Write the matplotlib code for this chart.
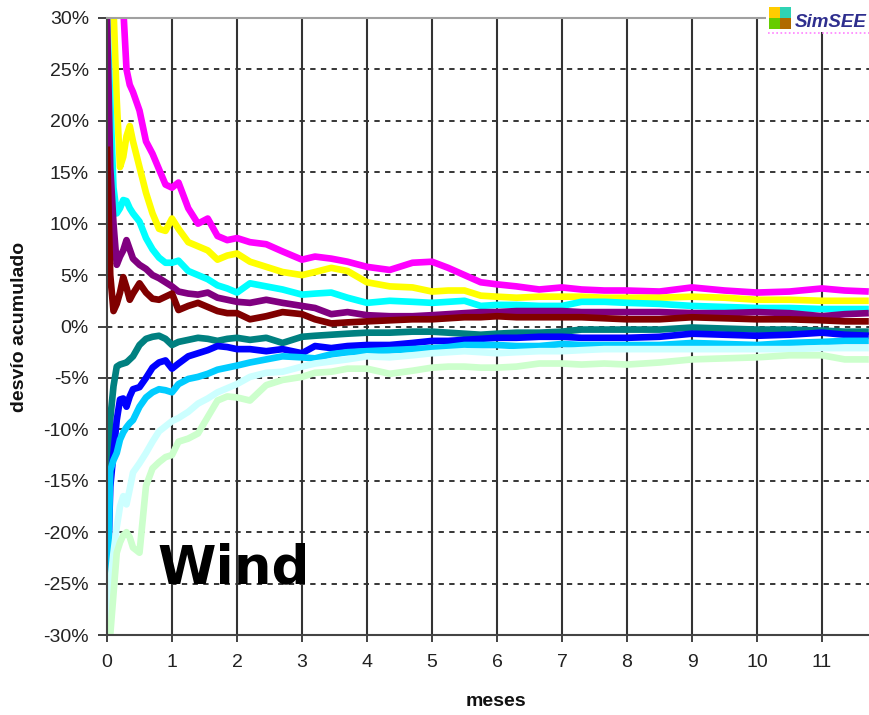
import matplotlib
matplotlib.use("Agg")
import matplotlib.pyplot as plt
from matplotlib.patches import Rectangle
from matplotlib.lines import Line2D

# ---------------- data ----------------
meses = [0, 0.05, 0.1, 0.15, 0.2, 0.25, 0.3, 0.35, 0.4,
         0.5, 0.6, 0.7, 0.8, 0.9,
         1.0, 1.1, 1.25, 1.4, 1.55, 1.7, 1.85,
         2.0, 2.2, 2.45, 2.7,
         3.0, 3.2, 3.45, 3.7,
         4.0, 4.35, 4.7,
         5.0, 5.25, 5.5, 5.75,
         6.0, 6.3, 6.65,
         7.0, 7.3, 7.65,
         8.0, 8.5,
         9.0, 9.5,
         10.0, 10.5,
         11.0, 11.35, 11.72]

s_magenta = [60, 50, 42, 38, 34, 31, 25, 23.5, 22.8,
             21, 18, 16.8, 15.3, 13.8,
             13.5, 14.0, 11.5, 10.0, 10.5, 8.8, 8.4,
             8.6, 8.2, 8.0, 7.3,
             6.5, 6.8, 6.6, 6.3,
             5.8, 5.5, 6.2,
             6.3, 5.7, 5.0, 4.3,
             4.1, 3.9, 3.6,
             3.8, 3.6, 3.5,
             3.5, 3.4,
             3.8, 3.5,
             3.3, 3.4,
             3.7, 3.5, 3.4]

s_amarillo = [55, 40, 31, 22, 15.5, 16.5, 18.5, 19.5, 18,
              15.5, 13, 11, 9.5, 9.3,
              10.5, 9.5, 8.2, 7.8, 7.4, 6.5, 6.9,
              7.1, 6.3, 5.8, 5.3,
              5.0, 5.3, 5.7, 5.4,
              4.3, 3.9, 3.8,
              3.4, 3.5, 3.5, 3.0,
              2.9, 2.8, 2.9,
              2.9, 2.9, 2.8,
              2.8, 2.8,
              2.9, 2.8,
              2.6, 2.6,
              2.5, 2.5, 2.5]

s_cian = [30, 22, 13.5, 11, 11.5, 12.3, 12.2, 11.5, 11,
          10.2, 8.6, 7.5, 6.7, 6.2,
          6.2, 6.4, 5.4, 5.0, 4.6, 4.0, 3.7,
          3.3, 4.2, 3.9, 3.6,
          3.1, 3.2, 3.3, 2.8,
          2.3, 2.5, 2.4,
          2.3, 2.4, 2.5, 2.0,
          2.1, 2.1, 2.0,
          2.0, 2.4, 2.4,
          2.3, 2.2,
          2.0, 1.9,
          1.8, 1.8,
          1.7, 1.7, 1.7]

s_purpura = [30, 15.5, 10, 6, 6.8, 7.4, 8.4, 7.5, 6.6,
             6.0, 5.6, 5.0, 4.7, 4.3,
             3.9, 3.4, 3.2, 3.1, 3.3, 2.8, 2.6,
             2.4, 2.3, 2.6, 2.3,
             2.0, 1.8, 1.2, 1.4,
             1.1, 1.0, 1.0,
             1.1, 1.2, 1.3, 1.4,
             1.4, 1.5, 1.5,
             1.5, 1.4, 1.4,
             1.4, 1.4,
             1.3, 1.3,
             1.4, 1.3,
             1.0, 1.2, 1.3]

s_granate = [17.5, 5, 1.5, 2.2, 3.3, 4.8, 3.8, 2.6, 3.2,
             4.2, 3.3, 2.7, 2.6, 2.9,
             3.2, 1.6, 2.0, 2.3, 1.9, 1.5, 1.3,
             1.3, 0.7, 1.0, 1.4,
             1.2, 0.7, 0.3, 0.4,
             0.5, 0.6, 0.7,
             0.7, 0.8, 0.9, 0.9,
             1.0, 0.9, 0.9,
             0.9, 0.9, 0.8,
             0.7, 0.7,
             0.9, 0.8,
             0.7, 0.7,
             0.6, 0.5, 0.5]

s_verde_azulado = [-15.5, -9, -5.8, -3.9, -3.7, -3.6, -3.5, -3.2, -2.9,
                   -1.8, -1.2, -1.0, -0.9, -1.2,
                   -1.8, -1.5, -1.3, -1.1, -1.2, -1.4, -1.2,
                   -1.1, -1.3, -1.1, -1.6,
                   -1.0, -0.9, -0.8, -0.7,
                   -0.6, -0.6, -0.5,
                   -0.5, -0.6, -0.7, -0.8,
                   -0.7, -0.6, -0.6,
                   -0.5, -0.3, -0.3,
                   -0.3, -0.3,
                   -0.1, -0.2,
                   -0.3, -0.3,
                   -0.4, -0.5, -0.5]

s_azul = [-27, -15.6, -12.3, -9.1, -7.1, -7.0, -7.8, -6.8, -6.1,
          -5.9, -5.0, -4.0, -3.5, -3.3,
          -4.1, -3.6, -2.9, -2.6, -2.3, -1.9, -2.0,
          -2.2, -2.2, -2.4, -2.2,
          -2.6, -1.9, -2.1, -1.9,
          -1.8, -1.8, -1.6,
          -1.4, -1.4, -1.3, -1.2,
          -1.1, -1.1, -1.0,
          -1.0, -1.1, -1.1,
          -1.1, -1.0,
          -0.7, -0.8,
          -0.9, -0.8,
          -0.6, -0.8, -0.9]

s_celeste = [-29, -14, -13, -12.3, -11, -10.3, -9.8, -9.4, -9.1,
             -7.8, -6.9, -6.4, -6.1, -6.2,
             -6.4, -5.6, -5.1, -4.9, -4.6, -4.2, -4.0,
             -3.8, -3.5, -3.2, -2.9,
             -3.0, -3.1, -2.7, -2.5,
             -2.4, -2.3, -2.2,
             -2.1, -2.0, -1.8, -1.8,
             -1.8, -1.9, -1.9,
             -1.7, -1.8, -1.8,
             -1.8, -1.8,
             -1.6, -1.7,
             -1.8, -1.6,
             -1.5, -1.4, -1.4]

s_cian_claro = [-29, -25, -22, -19.5, -17.5, -16.5, -17.3, -15.8, -14.2,
                -13.3, -12.3, -11.2, -10.2, -9.7,
                -9.2, -8.9, -8.3, -7.5, -7.0, -6.4, -6.0,
                -5.6, -4.9, -4.5, -4.4,
                -3.9, -3.6, -3.4, -3.2,
                -2.9, -3.0, -2.8,
                -2.6, -2.5, -2.4, -2.5,
                -2.6, -2.5, -2.4,
                -2.4, -2.3, -2.2,
                -2.2, -2.2,
                -2.2, -2.2,
                -2.2, -2.2,
                -2.1, -2.1, -2.1]

s_verde_claro = [-31, -30, -26, -22, -21, -20.3, -20, -20.5, -21.5,
                 -22, -15.5, -13.8, -13.2, -12.7,
                 -12.5, -11.2, -10.9, -10.4, -8.8, -7.2, -6.8,
                 -6.9, -7.2, -5.7, -5.2,
                 -4.9, -4.5, -4.4, -4.1,
                 -4.1, -4.6, -4.3,
                 -4.0, -3.9, -3.9, -4.0,
                 -4.0, -3.9, -3.6,
                 -3.6, -3.7, -3.6,
                 -3.7, -3.5,
                 -3.2, -3.1,
                 -3.0, -2.8,
                 -2.8, -3.2, -3.2]

series = [s_magenta, s_amarillo, s_cian, s_purpura, s_granate,
          s_verde_azulado, s_azul, s_celeste, s_cian_claro, s_verde_claro]
colores = ["#ff00ff", "#ffff00", "#00ffff", "#800080", "#800000",
           "#008080", "#0000ff", "#00ccff", "#ccffff", "#ccffcc"]

y_ticks = [-30, -25, -20, -15, -10, -5, 0, 5, 10, 15, 20, 25, 30]
y_ticklabels = [f"{v}%" for v in y_ticks]
x_ticks = list(range(12))

# ---------------- figure ----------------
W, H = 869, 715
fig = plt.figure(figsize=(W / 100, H / 100), dpi=100)
fig.patch.set_facecolor("white")
ax = fig.add_axes([107 / W, 1 - 635 / H, (869 - 107) / W, (635 - 18) / H])

# grid
for v in y_ticks[1:-1]:
    ax.axhline(v, color="black", lw=1.1, ls=(0, (3.5, 3.5)), zorder=0.5)
for m in x_ticks[1:]:
    ax.axvline(m, color="#333333", lw=1.5, zorder=0.5)

for vals, col in zip(series, colores):
    ax.plot(meses, vals, color=col, lw=4.8, solid_joinstyle="round",
            solid_capstyle="butt", zorder=2)

ax.set_xlim(0, (869 - 107) / 65.0)
ax.set_ylim(-30, 30)
ax.set_yticks(y_ticks)
ax.set_yticklabels(y_ticklabels)
ax.set_xticks(x_ticks)
ax.set_xticklabels([str(m) for m in x_ticks])

for lab in ax.get_yticklabels() + ax.get_xticklabels():
    lab.set_fontfamily("Liberation Sans")
    lab.set_fontsize(14)
    lab.set_color("#222222")

ax.tick_params(axis="y", length=6.5, width=1.3, color="#333333", pad=6.5)
ax.tick_params(axis="x", length=5, width=1.3, color="#333333", pad=9)

ax.spines["right"].set_visible(False)
ax.spines["top"].set_color("#a0a0a0")
ax.spines["top"].set_linewidth(1.5)
ax.spines["left"].set_color("#444444")
ax.spines["left"].set_linewidth(1.5)
ax.spines["bottom"].set_color("#444444")
ax.spines["bottom"].set_linewidth(1.5)

# axis labels
fig.text(20 / W, 1 - 327 / H, "desvío acumulado", rotation=90,
         ha="center", va="center", fontsize=14, fontweight="bold",
         family="Liberation Sans", color="#111111")
fig.text(496 / W, 1 - 702 / H, "meses", ha="center", va="center",
         fontsize=14, fontweight="bold", family="Liberation Sans",
         color="#111111")

# big label
fig.text(157 / W, 1 - 583 / H, "Wind", ha="left", va="baseline",
         fontsize=38.2, fontweight="bold", family="DejaVu Sans",
         color="black", zorder=20)

# logo (white box covering the frame, four squares, text, dotted line)
fig.patches.append(Rectangle((766 / W, 1 - 32 / H), (W - 766) / W, 32 / H,
                             transform=fig.transFigure, facecolor="white",
                             edgecolor="none", zorder=10))
sq = [((769, 7), "#ffcc00"), ((780, 7), "#2fd3b4"),
      ((769, 18), "#66cc00"), ((780, 18), "#b06a00")]
for (px, py), c in sq:
    fig.patches.append(Rectangle((px / W, 1 - (py + 10.5) / H), 10.5 / W, 10.5 / H,
                                 transform=fig.transFigure, facecolor=c,
                                 edgecolor="none", zorder=11))
fig.text(795 / W, 1 - 27 / H, "SimSEE", ha="left", va="baseline",
         fontsize=13.5, fontweight="bold", fontstyle="italic",
         family="Liberation Sans", color="#2e2e8e", zorder=12)
fig.lines.append(Line2D([768 / W, 1.0], [1 - 33 / H, 1 - 33 / H],
                        transform=fig.transFigure, color="#ff80ff",
                        lw=1.2, ls=(0, (1, 1.5)), zorder=12))

fig.savefig("out.png", dpi=100, facecolor="white")
